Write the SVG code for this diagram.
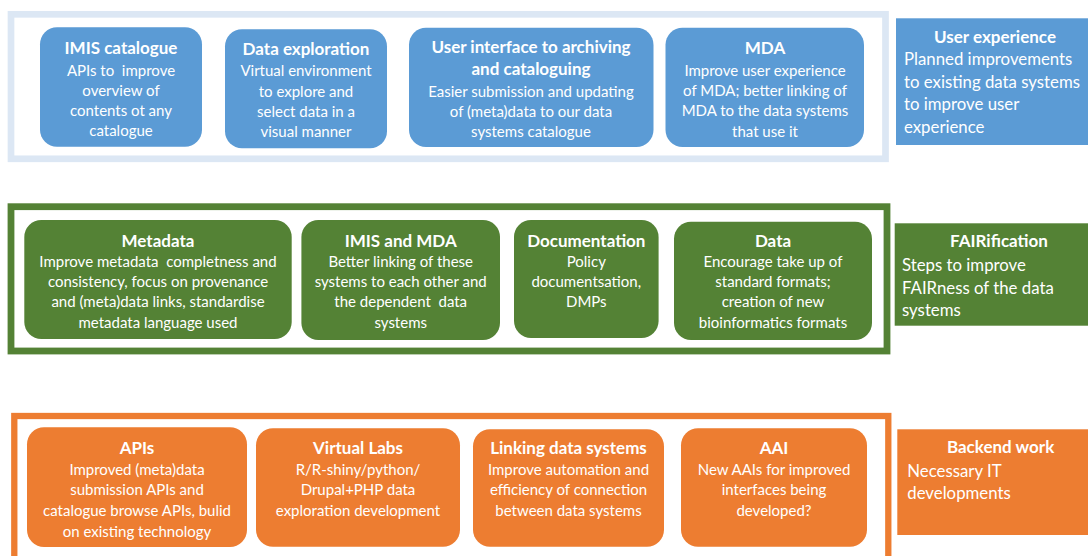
<svg xmlns="http://www.w3.org/2000/svg" width="1088" height="556" viewBox="0 0 1088 556">
<style>
text{white-space:pre}
.t{font-family:Lato,"Noto Sans",sans-serif;font-weight:700;font-size:17px;fill:#fff;text-anchor:middle}
.b{font-family:Lato,"Noto Sans",sans-serif;font-size:15px;fill:#fff;text-anchor:middle}
.st{font-family:Lato,"Noto Sans",sans-serif;font-weight:700;font-size:17px;fill:#fff;text-anchor:middle}
.sb{font-family:Lato,"Noto Sans",sans-serif;font-size:16.8px;fill:#fff}
.blue{fill:#5b9bd5}
.green{fill:#548235}
.orange{fill:#ed7d31}
.frame{fill:#fff}
</style>
<rect width="1088" height="556" fill="#fff"/>

<g id="frame-user-experience">
<rect class="frame" x="11" y="14.3" width="874.5" height="144.5" stroke="#dce7f4" stroke-width="6.7"/>
</g>
<g id="frame-fairification">
<rect class="frame" x="11" y="206.7" width="876" height="144.3" stroke="#548235" stroke-width="6.8"/>
</g>
<g id="frame-backend">
<rect class="frame" x="14.3" y="416" width="874" height="170" stroke="#ed7d31" stroke-width="6.3"/>
</g>

<g id="imis-catalogue">
<rect class="blue" x="40" y="27.3" width="162" height="119.4" rx="17"/>
<text class="t" x="121" y="54">IMIS catalogue</text>
<text class="b" x="121" y="75.7">APIs to  improve</text>
<text class="b" x="121" y="95.7">overview of</text>
<text class="b" x="121" y="115.7">contents ot any</text>
<text class="b" x="121" y="136">catalogue</text>
</g>
<g id="data-exploration">
<rect class="blue" x="225" y="29.3" width="162" height="119" rx="17"/>
<text class="t" x="306" y="55">Data exploration</text>
<text class="b" x="306" y="76">Virtual environment</text>
<text class="b" x="306" y="96.7">to explore and</text>
<text class="b" x="306" y="116.7">select data in a</text>
<text class="b" x="306" y="136.7">visual manner</text>
</g>
<g id="user-interface">
<rect class="blue" x="409" y="27.7" width="244.5" height="119.3" rx="17"/>
<text class="t" x="531" y="53.3">User interface to archiving</text>
<text class="t" x="531" y="75">and cataloguing</text>
<text class="b" x="531" y="96.7">Easier submission and updating</text>
<text class="b" x="531" y="116.7">of (meta)data to our data</text>
<text class="b" x="531" y="136.7">systems catalogue</text>
</g>
<g id="mda">
<rect class="blue" x="665.5" y="27.7" width="198.5" height="119.3" rx="17"/>
<text class="t" x="765" y="54">MDA</text>
<text class="b" x="765" y="76">Improve user experience</text>
<text class="b" x="765" y="96">of MDA; better linking of</text>
<text class="b" x="765" y="116.3">MDA to the data systems</text>
<text class="b" x="765" y="136.5">that use it</text>
</g>
<g id="user-experience">
<rect class="blue" x="896" y="18.3" width="192" height="126.7"/>
<text class="st" x="995" y="42.7">User experience</text>
<text class="sb" x="904" y="65">Planned improvements</text>
<text class="sb" x="904" y="87.7">to existing data systems</text>
<text class="sb" x="904" y="110">to improve user</text>
<text class="sb" x="904" y="133">experience</text>
</g>

<g id="metadata">
<rect class="green" x="24.3" y="220" width="267.4" height="119" rx="17"/>
<text class="t" x="158" y="246.7">Metadata</text>
<text class="b" x="158" y="266.7">Improve metadata  completness and</text>
<text class="b" x="158" y="287.3">consistency, focus on provenance</text>
<text class="b" x="158" y="307.3">and (meta)data links, standardise</text>
<text class="b" x="158" y="327.7">metadata language used</text>
</g>
<g id="imis-and-mda">
<rect class="green" x="301.4" y="220" width="198.6" height="120" rx="17"/>
<text class="t" x="400.7" y="246.7">IMIS and MDA</text>
<text class="b" x="400.7" y="266.7">Better linking of these</text>
<text class="b" x="400.7" y="287.3">systems to each other and</text>
<text class="b" x="400.7" y="307.3">the dependent  data</text>
<text class="b" x="400.7" y="327.7">systems</text>
</g>
<g id="documentation">
<rect class="green" x="514" y="220" width="144.6" height="118" rx="17"/>
<text class="t" x="586.3" y="246.7">Documentation</text>
<text class="b" x="586.3" y="266.7">Policy</text>
<text class="b" x="586.3" y="287.3">documentsation,</text>
<text class="b" x="586.3" y="307.3">DMPs</text>
</g>
<g id="data">
<rect class="green" x="674" y="221.7" width="198" height="118.3" rx="17"/>
<text class="t" x="773" y="246.7">Data</text>
<text class="b" x="773" y="266.7">Encourage take up of</text>
<text class="b" x="773" y="287.3">standard formats;</text>
<text class="b" x="773" y="307.3">creation of new</text>
<text class="b" x="773" y="327.7">bioinformatics formats</text>
</g>
<g id="fairification">
<rect class="green" x="894.7" y="223.3" width="193.3" height="102.4"/>
<text class="st" x="999" y="246.7">FAIRification</text>
<text class="sb" x="902" y="271">Steps to improve</text>
<text class="sb" x="902" y="293.5">FAIRness of the data</text>
<text class="sb" x="902" y="316">systems</text>
</g>

<g id="apis">
<rect class="orange" x="27" y="427.3" width="220" height="119.7" rx="17"/>
<text class="t" x="137" y="454">APIs</text>
<text class="b" x="137" y="475">Improved (meta)data</text>
<text class="b" x="137" y="495.3">submission APIs and</text>
<text class="b" x="137" y="515.5">catalogue browse APIs, bulid</text>
<text class="b" x="137" y="536.5">on existing technology</text>
</g>
<g id="virtual-labs">
<rect class="orange" x="256" y="428.3" width="204" height="118.4" rx="17"/>
<text class="t" x="358" y="454">Virtual Labs</text>
<text class="b" x="358" y="475">R/R-shiny/python/</text>
<text class="b" x="358" y="495.3">Drupal+PHP data</text>
<text class="b" x="358" y="515.5">exploration development</text>
</g>
<g id="linking-data-systems">
<rect class="orange" x="473" y="429.3" width="191" height="117.4" rx="17"/>
<text class="t" x="568.5" y="454">Linking data systems</text>
<text class="b" x="568.5" y="475">Improve automation and</text>
<text class="b" x="568.5" y="495.3">efficiency of connection</text>
<text class="b" x="568.5" y="515.5">between data systems</text>
</g>
<g id="aai">
<rect class="orange" x="681" y="428.3" width="186" height="118.4" rx="17"/>
<text class="t" x="774" y="454">AAI</text>
<text class="b" x="774" y="475">New AAIs for improved</text>
<text class="b" x="774" y="495.3">interfaces being</text>
<text class="b" x="774" y="515.5">developed?</text>
</g>
<g id="backend-work">
<rect class="orange" x="897.3" y="429.3" width="190.7" height="105.7"/>
<text class="st" x="1000.6" y="453.3">Backend work</text>
<text class="sb" x="907.3" y="476.7">Necessary IT</text>
<text class="sb" x="907.3" y="499.3">developments</text>
</g>

<g id="connectors"/>
</svg>
